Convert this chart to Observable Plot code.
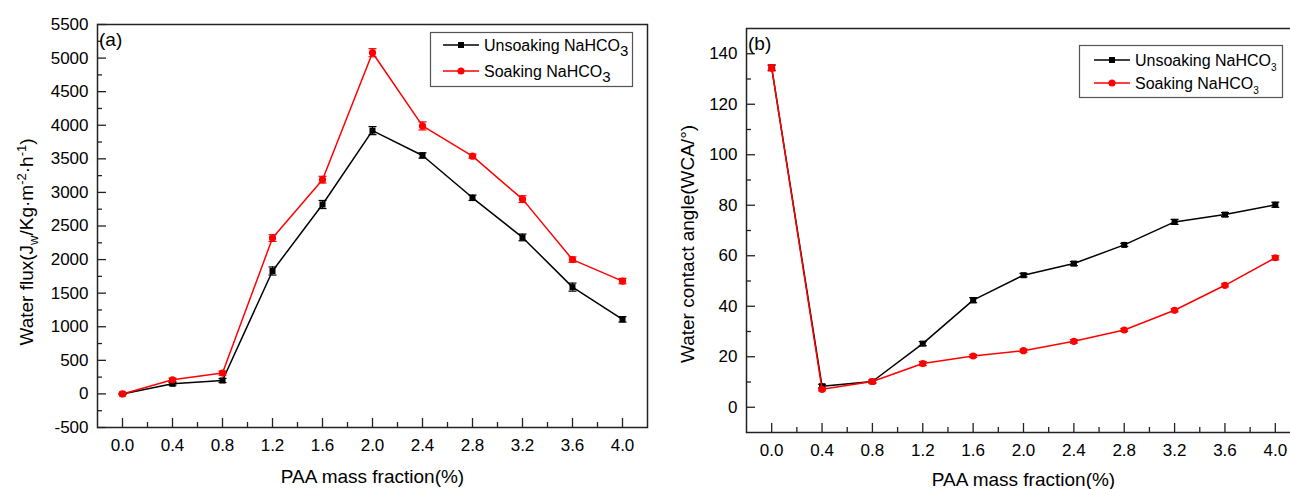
<!DOCTYPE html>
<html><head><meta charset="utf-8">
<script src="https://cdn.jsdelivr.net/npm/d3@7"></script>
<script src="https://cdn.jsdelivr.net/npm/@observablehq/plot@0.6"></script>
<style>
html,body{margin:0;padding:0;overflow:hidden;background:#fff;width:1290px;height:489px}
#wrap{position:relative;width:1290px;height:489px;overflow:hidden;background:#fff}
#a{position:absolute;left:0;top:0;width:655px;height:489px}
#b{position:absolute;left:660px;top:0;width:640px;height:489px}
svg{max-width:none !important}
</style></head><body><div id="wrap"><div id="a"></div><div id="b"></div></div>
<script>
// ---- data ----
const paa = [0.0, 0.4, 0.8, 1.2, 1.6, 2.0, 2.4, 2.8, 3.2, 3.6, 4.0];
const fluxUnsoak    = [0, 150, 200, 1830, 2820, 3920, 3550, 2920, 2330, 1590, 1110];
const fluxUnsoakErr = [10, 20, 30, 60, 60, 60, 40, 40, 50, 60, 40];
const fluxSoak      = [0, 210, 310, 2320, 3190, 5080, 3990, 3540, 2900, 2000, 1680];
const fluxSoakErr   = [10, 25, 30, 50, 50, 60, 60, 30, 50, 40, 40];
const wcaUnsoak     = [134.5, 8.3, 10.2, 25.2, 42.4, 52.3, 56.9, 64.3, 73.4, 76.3, 80.2];
const wcaUnsoakErr  = [1.0, 0.8, 0.6, 0.8, 1.0, 0.7, 0.8, 0.6, 1.0, 0.8, 1.0];
const wcaSoak       = [134.4, 7.1, 10.2, 17.3, 20.3, 22.4, 26.1, 30.6, 38.4, 48.3, 59.2];
const wcaSoakErr    = [1.2, 0.6, 0.6, 0.8, 0.6, 0.6, 0.7, 0.6, 0.6, 0.6, 0.8];
const xTicks = [0.0, 0.4, 0.8, 1.2, 1.6, 2.0, 2.4, 2.8, 3.2, 3.6, 4.0];
const xMinor = [0.2, 0.6, 1.0, 1.4, 1.8, 2.2, 2.6, 3.0, 3.4, 3.8];
const fluxTicks = [-500, 0, 500, 1000, 1500, 2000, 2500, 3000, 3500, 4000, 4500, 5000, 5500];
const fluxMinor = [-250, 250, 750, 1250, 1750, 2250, 2750, 3250, 3750, 4250, 4750, 5250];
const wcaTicks = [0, 20, 40, 60, 80, 100, 120, 140];
const wcaMinor = [10, 30, 50, 70, 90, 110, 130];
const seriesNames = ["Unsoaking NaHCO", "Soaking NaHCO"];
const xTitle = "PAA mass fraction(%)";

const FONT = '"Liberation Sans", Arial, Helvetica, sans-serif';
const capSymbol = {draw(ctx){ ctx.moveTo(-4, 0); ctx.lineTo(4, 0); }};
const rows = (vals, errs) => paa.map((x, i) => ({x, y: vals[i], lo: vals[i] - errs[i], hi: vals[i] + errs[i]}));

function seriesMarks(data, color, symbol, r) {
  return [
    Plot.line(data, {x: "x", y: "y", stroke: color, strokeWidth: 1.5}),
    Plot.ruleX(data, {x: "x", y1: "lo", y2: "hi", stroke: color, strokeWidth: 1.2}),
    Plot.dot(data, {x: "x", y: "lo", symbol: capSymbol, stroke: color, strokeWidth: 1.2, r: 4}),
    Plot.dot(data, {x: "x", y: "hi", symbol: capSymbol, stroke: color, strokeWidth: 1.2, r: 4}),
    Plot.dot(data, {x: "x", y: "y", symbol, fill: color, stroke: "none", r})
  ];
}

function makeChart(o) {
  const innerW = o.width - o.mL - o.mR, innerH = 489 - o.mT - o.mB;
  const tk = {stroke: "#222", strokeWidth: 1.3};
  const svg = Plot.plot({
    width: o.width, height: 489,
    marginLeft: o.mL, marginRight: o.mR, marginTop: o.mT, marginBottom: o.mB,
    style: {fontFamily: FONT, fontSize: "17px", color: "#000", background: "#fff", overflow: "visible"},
    x: {domain: [-0.2, 4.2]},
    y: {domain: o.yDomain},
    marks: [
      Plot.frame({stroke: "#222", strokeWidth: 1.5}),
      Plot.tickX(xTicks, {...tk, insetTop: innerH - 9}),
      Plot.tickX(xMinor, {...tk, insetTop: innerH - 5}),
      Plot.tickY(o.yTicks, {...tk, insetRight: innerW - 9}),
      Plot.tickY(o.yMinor, {...tk, insetRight: innerW - 5}),
      Plot.axisX({ticks: xTicks, tickSize: 0, tickPadding: 11, tickFormat: d => d.toFixed(1), label: null, fontSize: 17}),
      Plot.axisY({ticks: o.yTicks, tickSize: 0, tickPadding: 9, tickFormat: d => String(d), label: null, fontSize: 17}),
      Plot.text([xTitle], {text: d => d, frameAnchor: "bottom", dy: o.xtDy, fontSize: 19}),
      ...seriesMarks(rows(o.v1, o.e1), "#000", "square", 3.4),
      ...seriesMarks(rows(o.v2, o.e2), "#ff0000", "circle", 3.6)
    ]
  });
  const g = d3.select(svg);
  // panel tag
  g.append("text").attr("x", o.tag[1]).attr("y", o.tag[2]).attr("text-anchor", "start")
    .attr("font-family", FONT).attr("font-size", 19).text(o.tag[0]);
  // y title
  const t = g.append("text").attr("transform", `translate(${o.yt[0]},${o.yt[1]}) rotate(-90)`)
    .attr("text-anchor", "middle").attr("font-family", FONT).attr("font-size", 19).attr("dy", "0.35em");
  o.ytParts.forEach(p => {
    const s = t.append("tspan").text(p.t);
    if (p.dy) s.attr("dy", p.dy);
    if (p.fs) s.attr("font-size", p.fs);
  });
  // legend
  const L = o.legend;
  const lg = g.append("g").attr("font-family", FONT).attr("font-size", 16).attr("text-anchor", "start");
  lg.append("rect").attr("x", L.x + 0.5).attr("y", L.y + 0.5).attr("width", L.w).attr("height", L.h)
    .attr("fill", "#fff").attr("stroke", "#555").attr("stroke-width", 1.2);
  [["#000", "sq"], ["#ff0000", "ci"]].forEach(([c, m], i) => {
    const cy = L.rows[i];
    lg.append("line").attr("x1", L.lx1).attr("x2", L.lx2).attr("y1", cy).attr("y2", cy).attr("stroke", c).attr("stroke-width", 1.5);
    const mx = (L.lx1 + L.lx2) / 2;
    if (m === "sq") lg.append("rect").attr("x", mx - 3).attr("y", cy - 3).attr("width", 6).attr("height", 6).attr("fill", c);
    else lg.append("circle").attr("cx", mx).attr("cy", cy).attr("r", 3.5).attr("fill", c);
    const tx = lg.append("text").attr("x", L.tx).attr("y", cy + 5.5).attr("text-anchor", "start");
    tx.append("tspan").text(seriesNames[i]);
    tx.append("tspan").attr("font-size", L.subSize).attr("dy", L.subDy).text("3");
  });
  return svg;
}

document.getElementById("a").appendChild(makeChart({
  width: 655, mL: 97, mR: 8, mT: 24, mB: 62, xtDy: 55,
  yDomain: [-500, 5500], yTicks: fluxTicks, yMinor: fluxMinor,
  v1: fluxUnsoak, e1: fluxUnsoakErr, v2: fluxSoak, e2: fluxSoakErr,
  tag: ["(a)", 99, 46],
  yt: [26, 242],
  ytParts: [{t: "Water flux(J"}, {t: "w", fs: 13, dy: 5}, {t: "/Kg·m", dy: -5}, {t: "-2", fs: 13, dy: -7}, {t: "·h", dy: 7}, {t: "-1", fs: 13, dy: -7}, {t: ")", dy: 7}],
  legend: {x: 430, y: 32, w: 202, h: 54, rows: [45, 71], lx1: 443, lx2: 479, tx: 484, subSize: 15, subDy: 5}
}));

document.getElementById("b").appendChild(makeChart({
  width: 640, mL: 86, mR: 0, mT: 28, mB: 57, xtDy: 53,
  yDomain: [-10, 150], yTicks: wcaTicks, yMinor: wcaMinor,
  v1: wcaUnsoak, e1: wcaUnsoakErr, v2: wcaSoak, e2: wcaSoakErr,
  tag: ["(b)", 88, 50],
  yt: [27, 244],
  ytParts: [{t: "Water contact angle(WCA/°)"}],
  legend: {x: 419, y: 45, w: 203, h: 52, rows: [60, 83], lx1: 434, lx2: 470, tx: 475, subSize: 10, subDy: 5}
}));
</script>
</body></html>
